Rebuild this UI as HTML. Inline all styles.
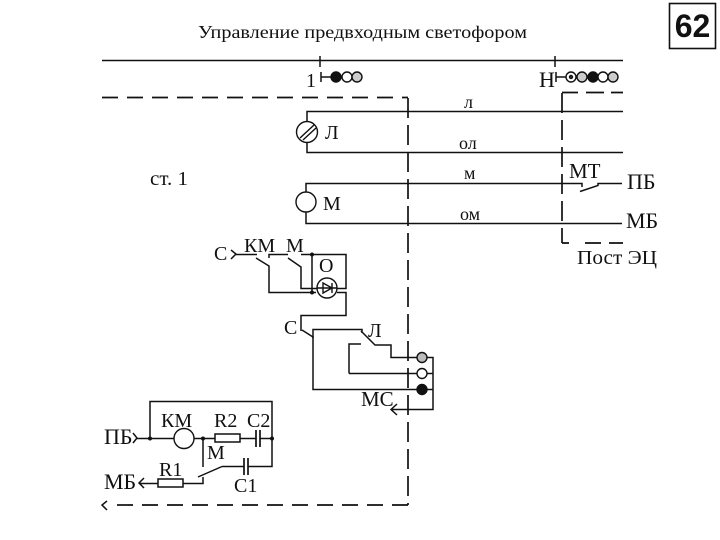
<!DOCTYPE html>
<html><head><meta charset="utf-8"><style>
html,body{margin:0;padding:0;background:#fff}
svg{display:block}
text{font-family:"Liberation Serif","Noto Serif CJK SC",serif;font-size:20px;fill:#111}
.s{font-size:18px}
.b{font-size:22px}
</style></head><body>
<svg width="720" height="540" viewBox="0 0 720 540" xmlns="http://www.w3.org/2000/svg">
<rect width="720" height="540" fill="#fff"/>
<g fill="none" stroke="#111" stroke-width="1.5">
<path d="M102 60.5H623M320 56V67M555 56V67"/>
<path d="M321 72V82M321 77H331M556 72V82M556 77H566"/>
<path stroke-width="1.7" stroke-dasharray="16 9" d="M102 97.5H408"/>
<path stroke-width="1.7" stroke-dasharray="20 7" d="M408 98V505"/>
<path stroke-width="1.7" stroke-dasharray="16 9" d="M408 505H112"/>
<path d="M107 501L102 505L107 510"/>
<path stroke-width="1.7" stroke-dasharray="20 7" d="M562 93V243"/>
<path stroke-width="1.7" d="M562 92.5H578M586 92.5H604M611 92.5H623M562 243H569M585 243H601M609 243H623"/>
<path d="M307 122V111.5H623M307 142V152.5H623M306 192V183.5H582V187M580 191.5L598 185.5V183.5H622M306 212V223.5H622"/>
<!-- relay section -->
<path d="M231 250L236 254L231 259M236 254.5H257M256 258L269 266V292.5H316M269 258V254.5H288M288 258L301 267V288.5H317"/>
<path d="M301 254.5H346V288.5H337M312 254.5V292.5M337 292.5H346V315.5H301V331M302 330L313 337V389.5H417"/>
<path d="M313 338V329.5H362V333M361 331L375 345H391V357.5H417M349 373.5V344H361M349 373.5H417"/>
<path d="M427 357.5H433V409.5H391M427 373.5H433M427 389.5H433M397 404L391 409.5L397 415"/>
<!-- bottom left -->
<path d="M133 433L137 438L133 443M137 438.5H174M150 438.5V401.5H272V466.5H260M194 438.5H215M240 438.5H256M260 438.5H272M203 438.5V467M248 466.5H272M222 466.5H244M198 477L222 466.5"/>
<path d="M144 478L139 483L144 488M139 483.5H158M183 483.5H203V477"/>
<path stroke-width="1.7" d="M256 430V447M260 430V447M244 458V475M248 458V475"/>
<rect x="215" y="434" width="25" height="8"/>
<rect x="158" y="479" width="25" height="8"/>
</g>
<g stroke="#111" stroke-width="1.4" fill="#fff">
<circle cx="336" cy="77" r="5" fill="#111"/>
<circle cx="347" cy="77" r="5"/>
<circle cx="357" cy="77" r="5" fill="#ccc"/>
<circle cx="571" cy="77" r="5"/>
<circle cx="571" cy="77" r="1.5" fill="#444"/>
<circle cx="582" cy="77" r="5" fill="#ccc"/>
<circle cx="593" cy="77" r="5" fill="#111"/>
<circle cx="603" cy="77" r="5"/>
<circle cx="613" cy="77" r="5" fill="#ccc"/>
<circle cx="307" cy="132" r="10.5"/>
<circle cx="306" cy="202" r="10"/>
<circle cx="327" cy="288" r="10"/>
<circle cx="422" cy="357.5" r="5" fill="#bbb"/>
<circle cx="422" cy="373.5" r="5"/>
<circle cx="422" cy="389.5" r="5" fill="#111"/>
<circle cx="184" cy="438.5" r="10"/>
</g>
<g fill="none" stroke="#111" stroke-width="1.4">
<path d="M300 138L314 125M303 140L316 128"/>
<path d="M323 283L332 288L323 293ZM332 283V293M317 288H337"/>
</g>
<g fill="#111">
<circle cx="312" cy="254.5" r="2"/><circle cx="312" cy="292.5" r="2"/>
<circle cx="150" cy="438.5" r="2"/><circle cx="203" cy="438.5" r="2"/><circle cx="272" cy="438.5" r="2"/>
</g>
<text x="198" y="38" textLength="329" lengthAdjust="spacingAndGlyphs" style="font-size:18px">Управление предвходным светофором</text>
<rect x="669.5" y="3.5" width="46" height="45" fill="#fff" stroke="#111" stroke-width="1.6"/>
<text x="692.5" y="37" text-anchor="middle" style="font-family:'Liberation Sans',sans-serif;font-weight:bold;font-size:32px">62</text>
<text x="306" y="87">1</text>
<text class="b" x="539" y="87">Н</text>
<text x="150" y="185" textLength="38" lengthAdjust="spacingAndGlyphs">ст. 1</text>
<text x="325" y="139">Л</text>
<text x="323" y="210">М</text>
<text class="s" x="464" y="108">л</text>
<text class="s" x="459" y="149">ол</text>
<text class="s" x="464" y="179">м</text>
<text class="s" x="460" y="220">ом</text>
<text x="569" y="178" style="font-size:21px">МТ</text>
<text class="b" x="627" y="189">ПБ</text>
<text class="b" x="626" y="228">МБ</text>
<text x="577" y="264" textLength="80" lengthAdjust="spacingAndGlyphs">Пост ЭЦ</text>
<text x="214" y="260">С</text>
<text x="244" y="252">КМ</text>
<text x="286" y="252">М</text>
<text x="319" y="272">О</text>
<text x="284" y="334">С</text>
<text x="368" y="337">Л</text>
<text x="361" y="406" style="font-size:21px">МС</text>
<text x="161" y="427">КМ</text>
<text x="214" y="427">R2</text>
<text x="247" y="427">С2</text>
<text class="b" x="104" y="444">ПБ</text>
<text class="b" x="104" y="489">МБ</text>
<text x="159" y="476">R1</text>
<text x="207" y="459">М</text>
<text x="234" y="492">С1</text>
</svg>
</body></html>
